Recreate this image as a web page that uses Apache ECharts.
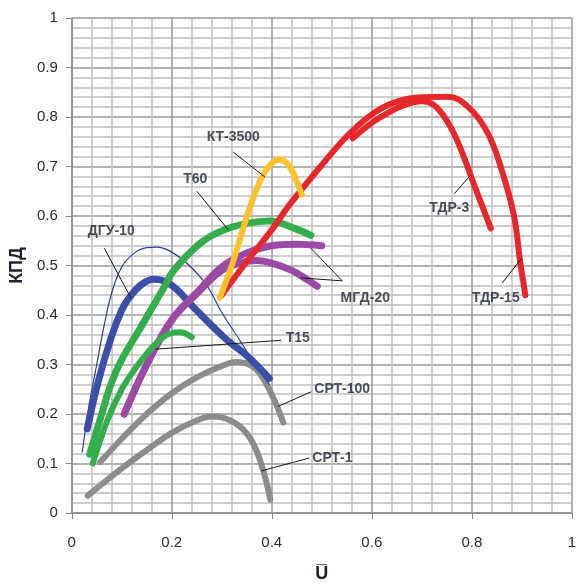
<!DOCTYPE html>
<html><head><meta charset="utf-8">
<script src="https://cdn.jsdelivr.net/npm/echarts@6/dist/echarts.min.js"></script>
<style>html,body{margin:0;padding:0;background:#fff}#c{width:579px;height:588px}</style>
</head><body><div id="c"></div>
<script>
// ---- data (x = U̅, y = КПД) ----
const srt1   = [[0.032,0.035],[0.1,0.09],[0.15,0.127],[0.2,0.162],[0.25,0.187],[0.28,0.195],[0.3,0.193],[0.336,0.175],[0.362,0.142],[0.382,0.089],[0.397,0.027]];
const srt100 = [[0.057,0.103],[0.1,0.15],[0.15,0.2],[0.2,0.242],[0.25,0.274],[0.3,0.297],[0.33,0.305],[0.355,0.3],[0.376,0.282],[0.402,0.235],[0.423,0.183]];
const dgu10thin = [[0.021,0.123],[0.035,0.22],[0.05,0.3],[0.065,0.38],[0.08,0.445],[0.1,0.497],[0.125,0.525],[0.15,0.536],[0.17,0.537],[0.2,0.527],[0.235,0.5],[0.27,0.46],[0.3,0.405],[0.336,0.349],[0.37,0.295],[0.395,0.26]];
const dgu10  = [[0.031,0.17],[0.052,0.262],[0.079,0.355],[0.1,0.41],[0.115,0.435],[0.14,0.462],[0.165,0.472],[0.2,0.46],[0.244,0.415],[0.31,0.35],[0.35,0.318],[0.395,0.272]];
const mgd20a = [[0.105,0.2],[0.15,0.3],[0.2,0.39],[0.25,0.445],[0.3,0.497],[0.349,0.525],[0.4,0.54],[0.45,0.543],[0.5,0.54]];
const mgd20b = [[0.105,0.2],[0.15,0.3],[0.2,0.39],[0.25,0.443],[0.3,0.49],[0.34,0.506],[0.369,0.51],[0.4,0.505],[0.44,0.49],[0.47,0.472],[0.491,0.458]];
const t15    = [[0.042,0.1],[0.072,0.189],[0.1,0.25],[0.125,0.289],[0.15,0.322],[0.171,0.345],[0.195,0.362],[0.215,0.365],[0.24,0.355]];
const t60    = [[0.036,0.119],[0.06,0.2],[0.079,0.262],[0.1,0.31],[0.138,0.375],[0.184,0.455],[0.204,0.49],[0.257,0.545],[0.3,0.57],[0.35,0.585],[0.395,0.59],[0.448,0.574],[0.478,0.561]];
const tdr15  = [[0.3,0.44],[0.35,0.508],[0.4,0.572],[0.435,0.622],[0.5,0.703],[0.554,0.765],[0.607,0.81],[0.653,0.832],[0.7,0.84],[0.752,0.841],[0.791,0.822],[0.831,0.769],[0.857,0.702],[0.884,0.602],[0.897,0.505],[0.904,0.46],[0.907,0.44]];
const tdr3   = [[0.562,0.757],[0.6,0.788],[0.633,0.809],[0.67,0.826],[0.7,0.832],[0.72,0.827],[0.739,0.809],[0.76,0.775],[0.778,0.735],[0.805,0.662],[0.838,0.575]];
const kt3500 = [[0.296,0.435],[0.32,0.5],[0.349,0.595],[0.37,0.655],[0.39,0.695],[0.415,0.714],[0.43,0.707],[0.442,0.689],[0.46,0.643]];

// ---- annotation labels: [x, y, text, align] ----
const curveLabels = [
  [0.323,0.759,'КТ-3500','center'],
  [0.247,0.675,'Т60','center'],
  [0.079,0.569,'ДГУ-10','center'],
  [0.428,0.353,'Т15','left'],
  [0.485,0.25,'СРТ-100','left'],
  [0.481,0.111,'СРТ-1','left'],
  [0.587,0.435,'МГД-20','center'],
  [0.755,0.615,'ТДР-3','center'],
  [0.848,0.435,'ТДР-15','center']
];
// ---- leader lines (pairs of points) ----
const leaders = [
  [[0.323,0.729],[0.386,0.679]],
  [[0.25,0.65],[0.313,0.572]],
  [[0.065,0.535],[0.118,0.435]],
  [[0.168,0.331],[0.419,0.349]],
  [[0.412,0.215],[0.479,0.245]],
  [[0.379,0.085],[0.475,0.111]],
  [[0.478,0.535],[0.541,0.469]],
  [[0.458,0.475],[0.541,0.469]],
  [[0.765,0.645],[0.797,0.682]],
  [[0.861,0.465],[0.9,0.515]]
];
const xTicks = [0,0.2,0.4,0.6,0.8,1];
const yTicks = [0,0.1,0.2,0.3,0.4,0.5,0.6,0.7,0.8,0.9,1];

const FONT = '"Liberation Sans Narrow","Liberation Sans",sans-serif';
function curve(name, data, color, width, z) {
  return {name, type:'line', data, smooth:0.4, symbol:'none', z,
    lineStyle:{color, width, cap:'round', join:'round'}, silent:true};
}
const series = [
  curve('СРТ-1', srt1, '#8c8c8c', 6, 2),
  curve('СРТ-100', srt100, '#8c8c8c', 6, 2),
  curve('ДГУ-10 (1)', dgu10thin, '#2f3d98', 1.2, 3),
  curve('ДГУ-10', dgu10, '#3c4ea8', 7, 4),
  curve('МГД-20 a', mgd20a, '#9a4aa2', 7, 5),
  curve('МГД-20 b', mgd20b, '#9a4aa2', 7, 5),
  curve('Т15', t15, '#34ae4c', 6, 6),
  curve('Т60', t60, '#34ae4c', 7, 6),
  curve('ТДР-15', tdr15, '#e6282c', 6, 7),
  curve('ТДР-3', tdr3, '#e6282c', 6, 7),
  curve('КТ-3500', kt3500, '#fbc22c', 6, 8)
];
leaders.forEach((seg,i)=>series.push({type:'line', data:seg, symbol:'none', silent:true, z:9,
  lineStyle:{color:'#1a1a1a', width:1}}));
series.push({type:'scatter', symbolSize:0, silent:true, z:10,
  data: curveLabels.map(l=>({value:[l[0],l[1]], name:l[2],
    label:{align:l[3]}})),
  label:{show:true, position:'inside', formatter:'{b}', color:'#1c2030',
    fontFamily:FONT, fontWeight:'bold', fontSize:14}
});

const chart = echarts.init(document.getElementById('c'), null, {renderer:'canvas'});
chart.setOption({
  animation:false,
  backgroundColor:'#ffffff',
  grid:{left:70, top:18, width:505, height:500, containLabel:false},
  xAxis:{type:'value', min:0, max:1, interval:0.2,
    name:'U\u0305', nameLocation:'middle', nameGap:52,
    nameTextStyle:{fontFamily:FONT, fontWeight:'bold', fontSize:18, color:'#1c2030'},
    axisLine:{show:true, lineStyle:{color:'#8a8a8a', width:1.5}},
    axisTick:{show:true, length:6, lineStyle:{color:'#8a8a8a'}},
    axisLabel:{margin:22, fontFamily:FONT, fontSize:15, color:'#262b3a',
      formatter:v=>{const t=xTicks.find(t=>Math.abs(t-v)<1e-9); return String(t===undefined?v:t);}},
    splitLine:{show:true, lineStyle:{color:'#9a9a9a', width:1.5}},
    minorTick:{show:false, splitNumber:5},
    minorSplitLine:{show:true, lineStyle:{color:'#c0c0c0', width:1.5}}
  },
  yAxis:{type:'value', min:0, max:1, interval:0.1,
    name:'КПД', nameLocation:'middle', nameGap:44, nameRotate:90,
    nameTextStyle:{fontFamily:FONT, fontWeight:'bold', fontSize:18, color:'#1c2030'},
    axisLine:{show:true, lineStyle:{color:'#8a8a8a', width:1.5}},
    axisTick:{show:true, length:6, lineStyle:{color:'#8a8a8a'}},
    axisLabel:{margin:14, fontFamily:FONT, fontSize:15, color:'#262b3a',
      formatter:v=>{const t=yTicks.find(t=>Math.abs(t-v)<1e-9); return String(t===undefined?v:t);}},
    splitLine:{show:true, lineStyle:{color:'#9a9a9a', width:1.5}},
    minorTick:{show:false, splitNumber:5},
    minorSplitLine:{show:true, lineStyle:{color:'#c0c0c0', width:1.5}}
  },
  series
});
</script></body></html>
